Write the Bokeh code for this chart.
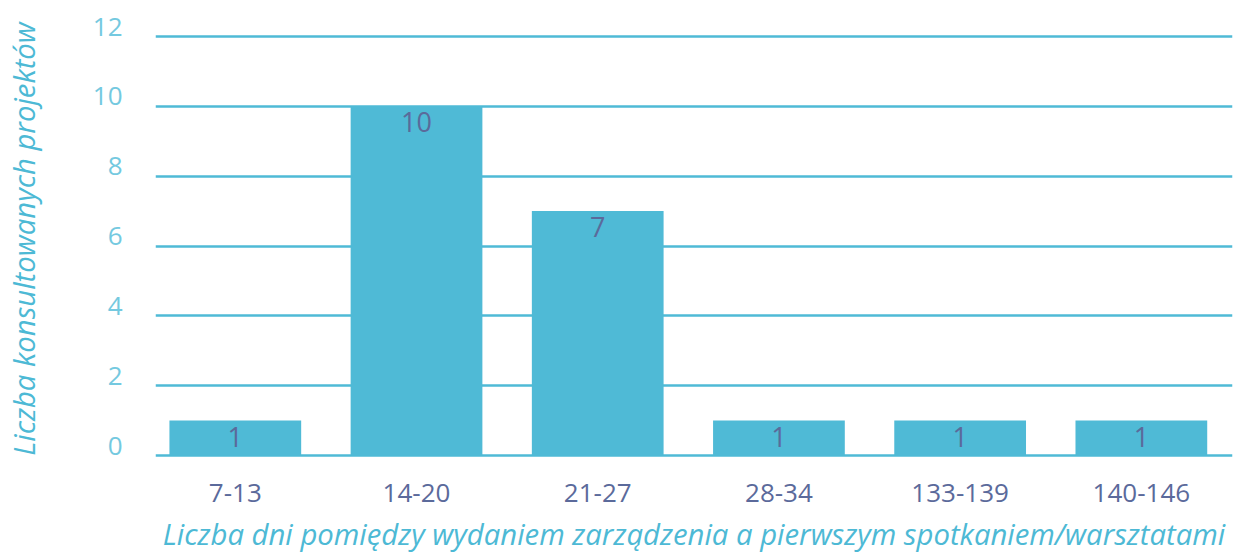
from bokeh.plotting import figure
from bokeh.models import Range1d, FixedTicker, ColumnDataSource, NumeralTickFormatter
from bokeh.core.properties import value
from bokeh.embed import file_html
from bokeh.resources import INLINE

categories = ["7-13", "14-20", "21-27", "28-34", "133-139", "140-146"]
counts = [1, 10, 7, 1, 1, 1]
y_ticks = [0, 2, 4, 6, 8, 10, 12]
x_title = "Liczba dni pomiędzy wydaniem zarządzenia a pierwszym spotkaniem/warsztatami"
y_title = "Liczba konsultowanych projektów"

BAR = "#4fbad6"
LIGHT = "#74c9e0"
DARK = "#5b6a9b"
TITLE = "#4db9d5"
FONT = "Open Sans"

positions = list(range(len(categories)))
src = ColumnDataSource(dict(x=positions, top=counts, label=[str(c) for c in counts]))

x0, x1 = -0.4404, 5.503
y0, y1 = -0.057, 12.458
LABEL_LIFT = 0.286  # y tick labels sit slightly above their grid lines

p = figure(width=1235, height=557, output_backend="svg", toolbar_location=None,
           x_range=Range1d(x0, x1), y_range=Range1d(y0, y1),
           min_border_left=155, min_border_right=3, min_border_top=20, min_border_bottom=100)
p.outline_line_color = None
p.background_fill_color = "white"
p.border_fill_color = "white"

p.vbar(x="x", top="top", bottom=0, width=0.727, source=src, fill_color=BAR, line_color=None)
p.text(x="x", y="top", text="label", source=src, text_align="center", text_baseline="top",
       y_offset=6, text_font=value(FONT), text_font_size="27px", text_color=DARK)

p.xgrid.grid_line_color = None
p.ygrid.ticker = FixedTicker(ticks=y_ticks)
p.ygrid.grid_line_color = BAR
p.ygrid.grid_line_width = 2.5
p.ygrid.level = "underlay"

p.yaxis.ticker = FixedTicker(ticks=[t + LABEL_LIFT for t in y_ticks])
p.yaxis.formatter = NumeralTickFormatter(format="0")
p.xaxis.ticker = FixedTicker(ticks=positions)
p.xaxis.major_label_overrides = {i: c for i, c in enumerate(categories)}

for ax in (p.xaxis[0], p.yaxis[0]):
    ax.axis_line_color = None
    ax.major_tick_line_color = None
    ax.minor_tick_line_color = None
    ax.major_tick_out = 0
    ax.major_tick_in = 0
    ax.major_label_text_font = FONT
    ax.major_label_text_font_size = "26px"
    ax.axis_label_text_font = FONT
    ax.axis_label_text_font_style = "italic"
    ax.axis_label_text_font_size = "29.3px"
    ax.axis_label_text_color = TITLE

p.yaxis.major_label_text_color = LIGHT
p.xaxis.major_label_text_color = DARK
p.yaxis.major_label_standoff = 33
p.xaxis.major_label_standoff = 26
p.xaxis.axis_label = x_title
p.yaxis.axis_label = y_title
p.xaxis.axis_label_standoff = 9
p.yaxis.axis_label_standoff = 46

open("out.html", "w").write(file_html(p, INLINE))
